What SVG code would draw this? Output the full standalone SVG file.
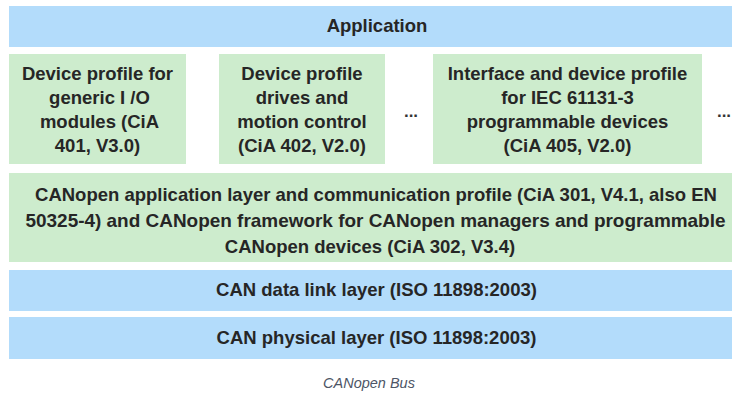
<svg xmlns="http://www.w3.org/2000/svg" width="732" height="399" viewBox="0 0 732 399">
  <style>
    .blue { fill: #b3dcfb; }
    .green { fill: #cdeccd; }
    .t { font-family: "Liberation Sans", Arial, sans-serif; font-weight: bold; font-size: 18.5px; fill: #262626; text-anchor: middle; }
    .dots { font-family: "Liberation Sans", Arial, sans-serif; font-weight: bold; font-size: 17px; fill: #333333; text-anchor: middle; }
    .cap { font-family: "Liberation Sans", Arial, sans-serif; font-style: italic; font-size: 14.5px; fill: #4d5566; text-anchor: middle; }
  </style>
  <rect width="732" height="399" fill="#ffffff"/>
  <g id="application">
    <rect class="blue" x="9" y="6" width="723" height="41"/>
    <text class="t" x="377" y="32">Application</text>
  </g>
  <g id="ciA401">
    <rect class="green" x="9" y="54" width="177" height="110"/>
    <text class="t" x="97.5" y="80">Device profile for</text>
    <text class="t" x="99.5" y="104">generic I /O</text>
    <text class="t" x="99.5" y="128">modules (CiA</text>
    <text class="t" x="97.5" y="152">401, V3.0)</text>
  </g>
  <g id="ciA402">
    <rect class="green" x="219" y="54" width="166" height="110"/>
    <text class="t" x="302" y="80">Device profile</text>
    <text class="t" x="302" y="104">drives and</text>
    <text class="t" x="302" y="128">motion control</text>
    <text class="t" x="302" y="152">(CiA 402, V2.0)</text>
  </g>
  <g id="ellipsis1">
    <text class="dots" x="411" y="117">...</text>
  </g>
  <g id="ciA405">
    <rect class="green" x="433" y="54" width="269" height="110"/>
    <text class="t" x="567.5" y="80">Interface and device profile</text>
    <text class="t" x="567.5" y="104">for IEC 61131-3</text>
    <text class="t" x="567.5" y="128">programmable devices</text>
    <text class="t" x="567.5" y="152">(CiA 405, V2.0)</text>
  </g>
  <g id="ellipsis2">
    <text class="dots" x="724" y="117">...</text>
  </g>
  <g id="canopen">
    <rect class="green" x="9" y="173" width="723" height="89"/>
    <text class="t" x="376" y="200.5">CANopen application layer and communication profile (CiA 301, V4.1, also EN</text>
    <text class="t" x="375.5" y="226.5" textLength="700" lengthAdjust="spacingAndGlyphs">50325-4) and CANopen framework for CANopen managers and programmable</text>
    <text class="t" x="370" y="252.5">CANopen devices (CiA 302, V3.4)</text>
  </g>
  <g id="datalink">
    <rect class="blue" x="9" y="270" width="723" height="41"/>
    <text class="t" x="376.5" y="296">CAN data link layer (ISO 11898:2003)</text>
  </g>
  <g id="physical">
    <rect class="blue" x="9" y="317" width="723" height="42"/>
    <text class="t" x="376.5" y="344">CAN physical layer (ISO 11898:2003)</text>
  </g>
  <g id="connectors"/>
  <g id="caption">
    <text class="cap" x="369" y="388">CANopen Bus</text>
  </g>
</svg>
